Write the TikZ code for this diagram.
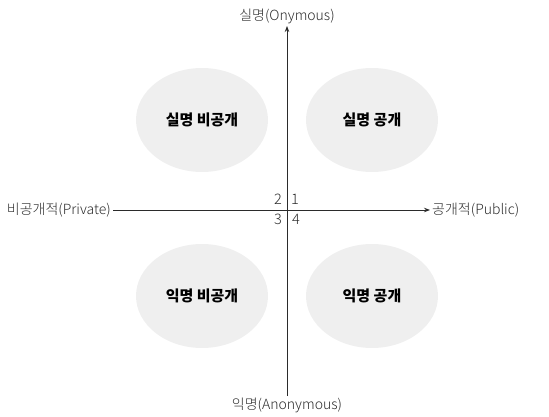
\documentclass[tikz,border=0pt]{standalone}
\usepackage{fontspec}
\setmainfont{Noto Sans CJK KR}
\newfontfamily\lightcjk{Noto Sans CJK KR}[UprightFont=* Light]
\usepackage{xcolor}
\usetikzlibrary{shapes.geometric, arrows.meta, positioning}
\definecolor{axisgray}{HTML}{2B2B2B}
\definecolor{blobgray}{HTML}{EFEFEF}
\begin{document}
\begin{tikzpicture}[
    x=1pt, y=-1pt,
    quad/.style={ellipse, fill=blobgray, minimum width=132pt, minimum height=104pt, inner sep=0pt, font=\fontsize{15}{18}\selectfont\bfseries, text=black},
    axislabel/.style={font=\lightcjk\fontsize{14}{16}\selectfont, text=axisgray, inner sep=2pt},
    num/.style={font=\lightcjk\fontsize{14.5}{16}\selectfont, text=axisgray, inner sep=0pt},
    arrow/.style={-{Stealth[length=6pt, width=4.5pt]}, line width=0.9pt, color=axisgray}
]
\useasboundingbox (0,0) rectangle (549,417);
% Quadrants
\node[quad] (onympriv) at (202,120) {실명 비공개};
\node[quad] (onympub) at (372,120) {실명 공개};
\node[quad] (anonpriv) at (202,296) {익명 비공개};
\node[quad] (anonpub) at (372,296) {익명 공개};
% Axis labels
\node[axislabel, anchor=south] (onym) at (287,26) {실명(Onymous)};
\node[axislabel, anchor=north] (anon) at (287,396) {익명(Anonymous)};
\node[axislabel, anchor=east] (priv) at (113,210) {비공개적(Private)};
\node[axislabel, anchor=west] (pub) at (430,210) {공개적(Public)};
% Axes
\draw[arrow] (anon) -- (onym);
\draw[arrow] (priv) -- (pub);
% Quadrant numbers
\node[num] (n1) at (295,199) {1};
\node[num] (n2) at (278,199) {2};
\node[num] (n3) at (278,219) {3};
\node[num] (n4) at (296,219) {4};
\end{tikzpicture}
\end{document}
